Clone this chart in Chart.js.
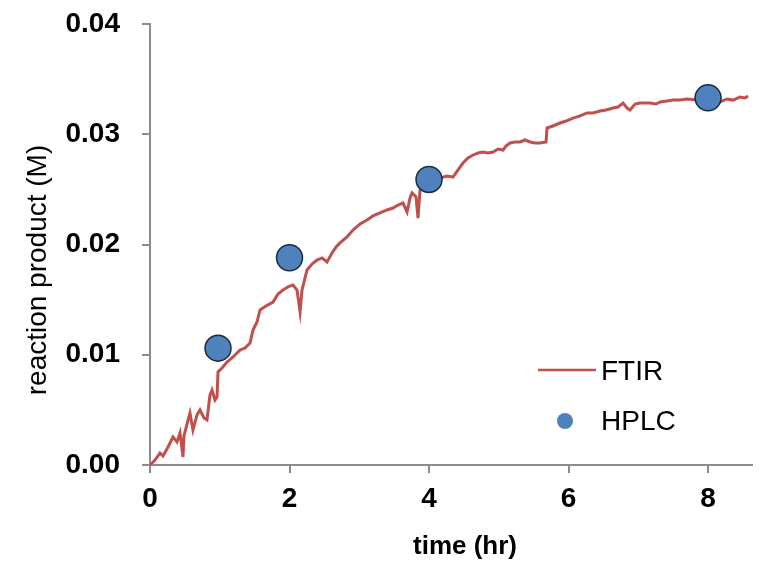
<!DOCTYPE html>
<html>
<head>
<meta charset="utf-8">
<script src="https://cdn.jsdelivr.net/npm/chart.js@4/dist/chart.umd.min.js"></script>
<style>
  html, body { margin:0; padding:0; background:#fff; }
  #wrap { width:768px; height:565px; }
</style>
</head>
<body>
<div id="wrap"><canvas id="chart" width="768" height="565"></canvas></div>
<script>
// FTIR trace (time in hr, product in M)
const ftirTime = [0, 0.072, 0.143, 0.186, 0.258, 0.330, 0.387, 0.430, 0.473, 0.487, 0.545, 0.573, 0.616, 0.674, 0.717, 0.774, 0.817, 0.860, 0.889, 0.932, 0.961, 0.975, 1.032, 1.104, 1.190, 1.290, 1.362, 1.434, 1.477, 1.534, 1.577, 1.663, 1.763, 1.835, 1.907, 1.978, 2.050, 2.108, 2.151, 2.179, 2.251, 2.323, 2.394, 2.466, 2.538, 2.609, 2.667, 2.724, 2.824, 2.910, 3.011, 3.111, 3.197, 3.297, 3.398, 3.484, 3.556, 3.627, 3.685, 3.728, 3.756, 3.814, 3.842, 3.871, 3.914, 4.014, 4.086, 4.158, 4.258, 4.344, 4.416, 4.487, 4.559, 4.631, 4.703, 4.774, 4.846, 4.918, 4.989, 5.061, 5.104, 5.161, 5.233, 5.305, 5.376, 5.448, 5.520, 5.591, 5.677, 5.692, 5.778, 5.878, 5.964, 6.065, 6.165, 6.265, 6.351, 6.452, 6.538, 6.638, 6.710, 6.781, 6.839, 6.882, 6.953, 7.025, 7.097, 7.168, 7.254, 7.312, 7.412, 7.498, 7.599, 7.699, 7.842, 7.957, 8.057, 8.172, 8.272, 8.358, 8.459, 8.530, 8.573];
const ftirConc = [0, 0.00045, 0.00109, 0.00082, 0.00163, 0.00254, 0.00209, 0.0029, 0.00073, 0.00263, 0.00408, 0.00472, 0.00317, 0.00454, 0.00499, 0.00426, 0.00408, 0.00635, 0.0068, 0.0059, 0.00617, 0.00844, 0.0088, 0.00934, 0.0098, 0.01043, 0.01061, 0.01107, 0.01224, 0.01297, 0.01406, 0.01442, 0.01478, 0.01551, 0.01587, 0.01615, 0.01633, 0.01587, 0.01388, 0.01587, 0.01769, 0.01823, 0.01859, 0.01878, 0.01841, 0.01923, 0.01977, 0.02014, 0.02068, 0.02132, 0.02186, 0.02222, 0.02259, 0.02286, 0.02313, 0.02331, 0.02358, 0.02376, 0.02295, 0.02422, 0.02467, 0.02431, 0.0224, 0.02494, 0.02522, 0.02494, 0.02549, 0.02603, 0.02621, 0.02612, 0.02676, 0.02739, 0.02785, 0.02812, 0.0283, 0.02839, 0.0283, 0.02839, 0.02866, 0.02857, 0.02893, 0.02921, 0.0293, 0.0293, 0.02948, 0.0293, 0.02921, 0.02921, 0.0293, 0.03057, 0.03075, 0.03102, 0.0312, 0.03147, 0.03166, 0.03193, 0.03193, 0.03211, 0.0322, 0.03238, 0.03247, 0.03283, 0.03238, 0.0322, 0.03274, 0.03283, 0.03283, 0.03283, 0.03274, 0.03293, 0.03302, 0.0331, 0.0331, 0.0332, 0.0331, 0.0332, 0.03302, 0.03293, 0.0332, 0.0331, 0.03338, 0.03329, 0.03347];

// HPLC samples
const hplcTime = [0.975, 2.0, 4.0, 8.0];
const hplcConc = [0.0106, 0.0188, 0.0259, 0.0333];

// axis ticks
const xTicks = [0, 2, 4, 6, 8];
const yTicks = [0, 0.01, 0.02, 0.03, 0.04];

const seriesNames = ['FTIR', 'HPLC'];
const axisTitles = ['time (hr)', 'reaction product (M)'];
const axisGrey = '#8c8c8c';
const FONT = '"Liberation Sans", Arial, sans-serif';

// axis titles and legend, drawn by hand
const extras = {
  id: 'extras',
  afterDraw(chart) {
    const ctx = chart.ctx, a = chart.chartArea;
    const ftir = chart.data.datasets[1], hplc = chart.data.datasets[0];
    ctx.save();
    ctx.fillStyle = '#000';
    ctx.textAlign = 'center';
    ctx.textBaseline = 'middle';
    ctx.font = 'bold 26px ' + FONT;
    ctx.fillText(axisTitles[0], a.left + 315, 547);
    ctx.save();
    ctx.translate(38, a.top + 246);
    ctx.rotate(-Math.PI / 2);
    ctx.font = '28px ' + FONT;
    ctx.fillText(axisTitles[1], 0, 0);
    ctx.restore();

    ctx.strokeStyle = ftir.borderColor;
    ctx.lineWidth = 2.5;
    ctx.beginPath(); ctx.moveTo(538, 370); ctx.lineTo(596, 370); ctx.stroke();
    ctx.fillStyle = hplc.backgroundColor;
    ctx.beginPath(); ctx.arc(565, 421, 8, 0, Math.PI * 2); ctx.fill();
    ctx.fillStyle = '#000';
    ctx.textAlign = 'left';
    ctx.font = '28px ' + FONT;
    ctx.fillText(ftir.label, 601, 372);
    ctx.fillText(hplc.label, 601, 422);
    ctx.restore();
  }
};

const tickFont = { family: FONT, size: 28, weight: 'bold' };

new Chart(document.getElementById('chart').getContext('2d'), {
  type: 'scatter',
  data: {
    datasets: [
      { label: seriesNames[1], data: hplcTime.map((t, i) => ({ x: t, y: hplcConc[i] })),
        backgroundColor: '#4f81bd', borderColor: '#1c2b40', borderWidth: 1.5, pointRadius: 13, order: 0 },
      { label: seriesNames[0], type: 'line', data: ftirTime.map((t, i) => ({ x: t, y: ftirConc[i] })),
        borderColor: '#c0504d', borderWidth: 3, pointRadius: 0, tension: 0, fill: false, order: 1 }
    ]
  },
  options: {
    responsive: false,
    animation: false,
    layout: { padding: { left: 0, top: 24, right: 16, bottom: 0 } },
    plugins: { legend: { display: false }, tooltip: { enabled: false } },
    scales: {
      x: {
        type: 'linear', min: 0, max: 8.63,
        afterFit: s => { s.height = 100; s.paddingLeft = 0; s.paddingRight = 0; },
        afterBuildTicks: s => { s.ticks = xTicks.map(v => ({ value: v })); },
        ticks: { padding: 9, color: '#000', font: tickFont },
        grid: { drawOnChartArea: false, tickLength: 8, color: axisGrey, lineWidth: 2 },
        border: { color: axisGrey, width: 2 }
      },
      y: {
        min: 0, max: 0.04,
        afterFit: s => { s.width = 150; s.paddingTop = 0; s.paddingBottom = 0; },
        afterBuildTicks: s => { s.ticks = yTicks.map(v => ({ value: v })); },
        ticks: { padding: 22, color: '#000', callback: v => v.toFixed(2), font: tickFont },
        grid: { drawOnChartArea: false, tickLength: 8, color: axisGrey, lineWidth: 2 },
        border: { color: axisGrey, width: 2 }
      }
    }
  },
  plugins: [extras]
});
</script>
</body>
</html>
